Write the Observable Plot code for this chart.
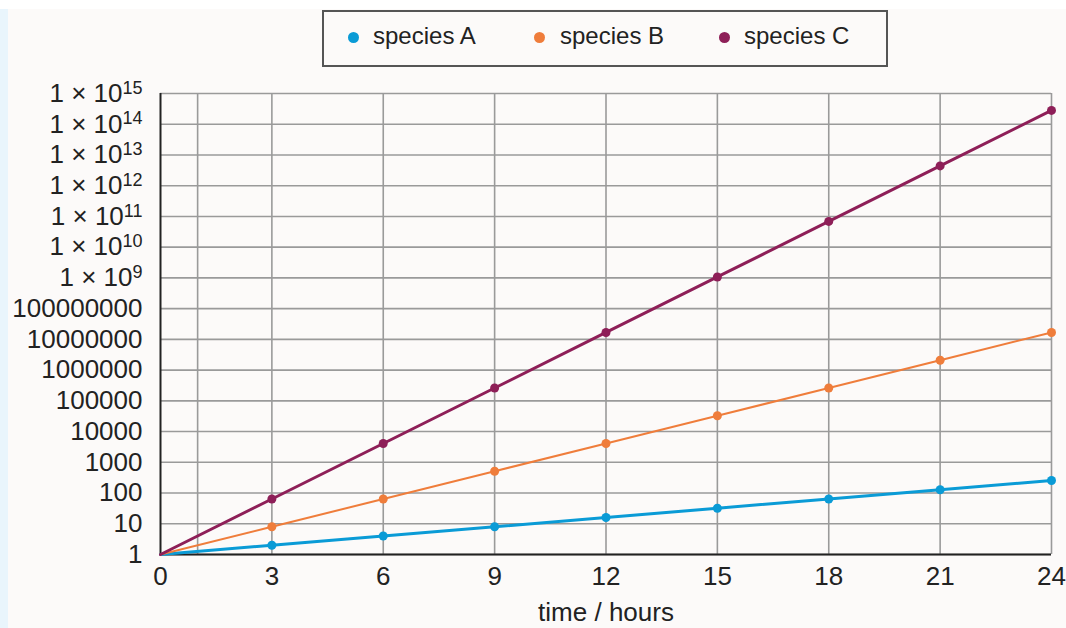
<!DOCTYPE html>
<html>
<head>
<meta charset="utf-8">
<script src="https://cdn.jsdelivr.net/npm/d3@7"></script>
<script src="https://cdn.jsdelivr.net/npm/@observablehq/plot@0.6"></script>
<style>
  html, body { margin: 0; padding: 0; }
  body { width: 1066px; height: 628px; background: #fcfaf9; position: relative; overflow: hidden;
         font-family: "Liberation Sans", Arial, Helvetica, sans-serif; color: #222; }
  #strip { position: absolute; left: 0; top: 0; width: 8px; height: 628px; background: #e9f5fc; }
  #topstrip { position: absolute; left: 0; top: 0; width: 1066px; height: 9px; background: #ffffff; }
  #chart { position: absolute; left: 0; top: 0; }
  #legend { position: absolute; left: 322px; top: 10px; width: 562px; height: 53px;
            border: 2px solid #555; background: #fcfaf9; box-sizing: content-box; }
  .item { position: absolute; top: 0; height: 48px; line-height: 48px; font-size: 24px; color: #222; white-space: nowrap; }
  .dot { position: absolute; top: 20px; width: 11px; height: 11px; border-radius: 50%; }
</style>
</head>
<body>
<div id="strip"></div>
<div id="topstrip"></div>
<div id="chart"></div>
<div id="legend"></div>
<script>
// ---- data ----
const hours = [0, 3, 6, 9, 12, 15, 18, 21, 24];
const speciesA = [1, 2, 4, 8, 16, 32, 64, 128, 256];
const speciesB = [1, 8, 64, 512, 4096, 32768, 262144, 2097152, 16777216];
const speciesC = [1, 64, 4096, 262144, 16777216, 1073741824, 68719476736, 4398046511104, 281474976710656];
const seriesNames = ["species A", "species B", "species C"];
const seriesColors = ["#0a9bd6", "#ef7d3b", "#8e1f58"];
const seriesWidths = [3, 2, 3];
const xTicks = [0, 3, 6, 9, 12, 15, 18, 21, 24];
const xGrid = [1, 3, 6, 9, 12, 15, 18, 21, 24];
const yTicks = [1, 1e1, 1e2, 1e3, 1e4, 1e5, 1e6, 1e7, 1e8, 1e9, 1e10, 1e11, 1e12, 1e13, 1e14, 1e15];
const xLabel = "time / hours";

const allSeries = [speciesA, speciesB, speciesC];
const rows = [];
allSeries.forEach((vals, si) => {
  vals.forEach((v, i) => rows.push({series: seriesNames[si], t: hours[i], v}));
});

const fmt = d => {
  const e = Math.round(Math.log10(d));
  return e <= 8 ? String(Math.round(d)) : "1 × 10^" + e;
};

const marks = [
  Plot.ruleY(yTicks, {y: d => d, stroke: "#9a9a9a", strokeWidth: 1.6}),
  Plot.ruleX(xGrid, {x: d => d, stroke: "#9a9a9a", strokeWidth: 1.6}),
  Plot.ruleX([0], {stroke: "#222", strokeWidth: 2}),
  Plot.ruleY([1], {stroke: "#222", strokeWidth: 2}),
  Plot.axisX({ticks: xTicks, tickSize: 0, tickPadding: 12, fontSize: 26, tickFormat: d => String(d), label: null}),
  Plot.axisY({ticks: yTicks, tickSize: 0, tickPadding: 18, fontSize: 26, tickFormat: fmt, label: null}),
  Plot.text([xLabel], {frameAnchor: "bottom", dy: 58, fontSize: 26, fill: "#222", text: d => d, lineAnchor: "middle"})
];
seriesNames.forEach((name, si) => {
  const data = rows.filter(r => r.series === name);
  marks.push(Plot.line(data, {x: "t", y: "v", stroke: seriesColors[si], strokeWidth: seriesWidths[si]}));
  marks.push(Plot.dot(data.filter(r => r.t > 0), {x: "t", y: "v", r: 4.5, fill: seriesColors[si], stroke: "none"}));
});

const chart = Plot.plot({
  width: 1066,
  height: 628,
  marginLeft: 160,
  marginRight: 15,
  marginTop: 93,
  marginBottom: 74,
  style: {background: "transparent", fontFamily: "'Liberation Sans', Arial, Helvetica, sans-serif", color: "#222", overflow: "visible"},
  x: {domain: [0, 24]},
  y: {type: "log", domain: [1, 1e15]},
  marks
});
document.getElementById("chart").appendChild(chart);

// superscripts for y tick labels
d3.select(chart).selectAll('g[aria-label="y-axis tick label"] text').each(function() {
  const t = d3.select(this);
  const s = t.text();
  if (s.includes("^")) {
    const [base, exp] = s.split("^");
    t.text(null);
    t.append("tspan").text(base);
    t.append("tspan").attr("dy", "-0.45em").attr("font-size", "18px").text(exp);
  }
});

// legend
const legend = document.getElementById("legend");
const dotX = [29, 215, 400];
const textX = [49, 236, 420];
seriesNames.forEach((name, i) => {
  const dot = document.createElement("div");
  dot.className = "dot";
  dot.style.left = (dotX[i] - 5.5) + "px";
  dot.style.background = seriesColors[i];
  legend.appendChild(dot);
  const it = document.createElement("div");
  it.className = "item";
  it.style.left = textX[i] + "px";
  it.textContent = name;
  legend.appendChild(it);
});
</script>
</body>
</html>
